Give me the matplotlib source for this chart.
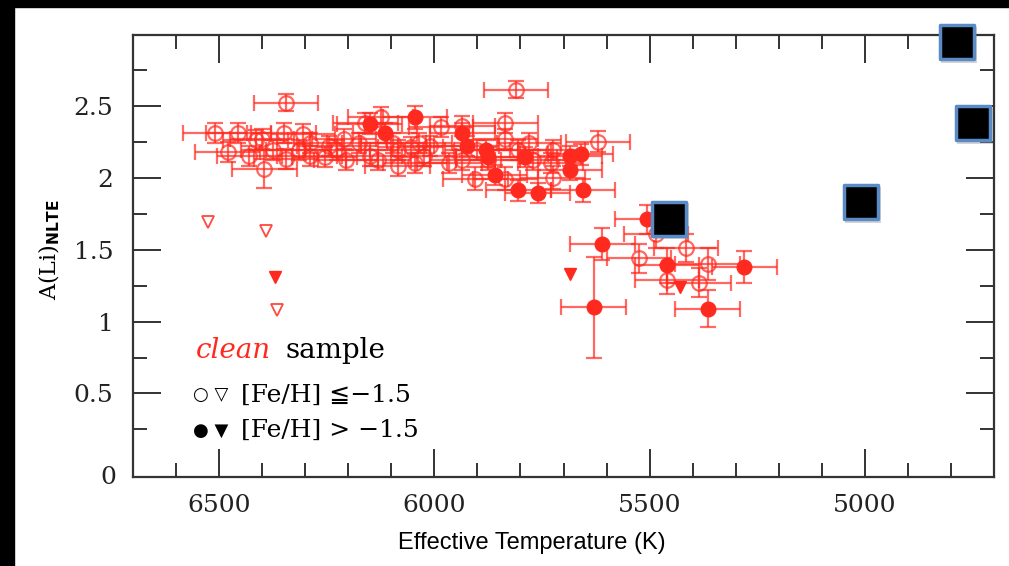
import matplotlib
matplotlib.use("Agg")
import matplotlib.pyplot as plt
from matplotlib.ticker import MultipleLocator, FixedLocator
from matplotlib.patches import Rectangle

# metal-poor stars ([Fe/H] <= -1.5), open circles
open_teff = [6510, 6455, 6430, 6415, 6400, 6350, 6345, 6305, 6395, 6345,
             6290, 6290, 6255, 6210, 6205, 6175, 6150, 6160, 6125, 5985,
             6055, 6035, 6045, 5965, 5935, 5835, 5835, 5780, 5620, 5810,
             5730, 5725, 5905, 5835, 6085, 6095, 6010, 6225, 6315, 6245,
             6375, 6480, 6130, 5935, 5875, 5725, 5770, 5805, 5900, 6085,
             6025, 5485, 5415, 5525, 5365, 5460, 5385]
open_ali = [2.31, 2.31, 2.15, 2.26, 2.27, 2.31, 2.52, 2.30, 2.06, 2.13,
            2.15, 2.24, 2.14, 2.27, 2.12, 2.24, 2.15, 2.38, 2.42, 2.35,
            2.21, 2.24, 2.10, 2.10, 2.36, 2.38, 2.27, 2.24, 2.25, 2.61,
            2.10, 2.00, 1.99, 1.99, 2.19, 2.24, 2.22, 2.19, 2.19, 2.22,
            2.19, 2.18, 2.12, 2.12, 2.12, 2.19, 2.12, 2.19, 2.19, 2.08,
            2.15, 1.61, 1.51, 1.44, 1.40, 1.29, 1.27]
open_eali = [0.07, 0.07, 0.07, 0.07, 0.07, 0.07, 0.06, 0.07, 0.13, 0.07,
             0.07, 0.07, 0.07, 0.07, 0.07, 0.07, 0.07, 0.07, 0.07, 0.07,
             0.07, 0.07, 0.07, 0.07, 0.07, 0.07, 0.07, 0.07, 0.07, 0.06,
             0.07, 0.08, 0.08, 0.08, 0.07, 0.07, 0.07, 0.07, 0.07, 0.07,
             0.07, 0.07, 0.07, 0.07, 0.07, 0.07, 0.07, 0.07, 0.07, 0.07,
             0.07, 0.10, 0.10, 0.10, 0.11, 0.10, 0.10]

# [Fe/H] > -1.5, filled circles
filled_teff = [6150, 6115, 6045, 5935, 5925, 5880, 5875, 5790, 5685, 5660,
               5685, 5860, 5805, 5760, 5655, 5610, 5505, 5460, 5280, 5630,
               5365]
filled_ali = [2.375, 2.31, 2.42, 2.31, 2.22, 2.19, 2.14, 2.14, 2.15, 2.16,
              2.05, 2.02, 1.91, 1.89, 1.91, 1.54, 1.71, 1.39, 1.38, 1.10,
              1.09]
filled_eali = [0.07, 0.07, 0.08, 0.07, 0.07, 0.07, 0.07, 0.07, 0.07, 0.07,
               0.07, 0.07, 0.07, 0.07, 0.08, 0.11, 0.10, 0.12, 0.11, 0.35,
               0.13]
eteff = 75

# upper limits
lim_open_teff = [6525, 6390, 6365]
lim_open_ali = [1.69, 1.63, 1.08]
lim_filled_teff = [6370, 5685, 5430]
lim_filled_ali = [1.31, 1.33, 1.24]

# overlaid black squares
sq_teff = [5454, 5008, 4785, 4748]
sq_ali = [1.715, 1.83, 2.94, 2.38]

red = "#ff2a1f"
serif = ["DejaVu Serif", "DejaVu Sans"]

fig = plt.figure(figsize=(10.09, 5.66), dpi=100)
ax = fig.add_axes([133 / 1009, 1 - 477 / 566, 861 / 1009, 442 / 566])

ax.errorbar(open_teff, open_ali, xerr=eteff, yerr=open_eali, fmt="o", ms=10.5,
            mfc="none", mec=red, mew=1.6, ecolor=red, elinewidth=1.6,
            capsize=6, capthick=1.6, alpha=0.7, zorder=2)
ax.errorbar(filled_teff, filled_ali, xerr=eteff, yerr=filled_eali, fmt="none",
            ecolor=red, elinewidth=1.6, capsize=6, capthick=1.6, alpha=0.7,
            zorder=2)
ax.plot(filled_teff, filled_ali, "o", ms=10.5, color=red, mec=red, zorder=3)
ax.plot(lim_open_teff, lim_open_ali, "v", ms=8.5, mfc="none", mec=red,
        mew=1.3, alpha=0.85, zorder=3)
ax.plot(lim_filled_teff, lim_filled_ali, "v", ms=8.5, color=red, zorder=3)

# shadow + squares
ax.scatter([t - 3 for t in sq_teff], [a - 0.02 for a in sq_ali], s=640,
           marker="s", color="#888888", alpha=0.35, lw=0, zorder=4,
           clip_on=False)
ax.scatter(sq_teff, sq_ali, s=600, marker="s", color="black",
           edgecolors="#5b8bc7", linewidths=2.5, zorder=5, clip_on=False)

ax.set_xlim(6700, 4700)
ax.set_ylim(-0.08, 2.99)
ax.xaxis.set_major_locator(FixedLocator([6500, 6000, 5500, 5000]))
ax.xaxis.set_minor_locator(MultipleLocator(100))
ax.yaxis.set_major_locator(FixedLocator([0.5, 1.0, 1.5, 2.0, 2.5]))
ax.yaxis.set_minor_locator(FixedLocator([0.25, 0.75, 1.25, 1.75, 2.25, 2.75]))
ax.set_yticklabels(["0.5", "1", "1.5", "2", "2.5"])
ax.tick_params(which="both", direction="in", top=True, right=True,
               color="#333333", width=1.4)
ax.tick_params(which="major", length=20)
ax.tick_params(which="minor", length=10)
ax.tick_params(axis="x", pad=12)
ax.tick_params(axis="y", pad=14)
for lab in ax.get_xticklabels() + ax.get_yticklabels():
    lab.set_fontfamily(serif)
    lab.set_fontsize(18)
    lab.set_color("#222222")
for sp in ax.spines.values():
    sp.set_linewidth(1.6)
    sp.set_color("#333333")

# "0" label sits at the bottom edge
ax.text(-0.019, -0.08, "0", transform=ax.get_yaxis_transform(), ha="right",
        va="center", fontsize=18, family=serif, color="#222222")

ax.set_xlabel("Effective Temperature (K)", family="Liberation Sans",
              fontsize=17)
ax.xaxis.set_label_coords(0.463, -0.125)
ax.set_ylabel(r"A(Li)$_{\mathbf{NLTE}}$", family=serif, fontsize=16)
ax.yaxis.set_label_coords(-0.083, 0.514)

# key
ax.text(0.073, 0.27, "clean", transform=ax.transAxes, color=red,
        style="italic", family=serif, fontsize=20, va="baseline")
ax.text(0.177, 0.27, "sample", transform=ax.transAxes, color="black",
        family=serif, fontsize=20, va="baseline")
ax.text(0.07, 0.185, "\u25cb \u25bd", transform=ax.transAxes,
        family="DejaVu Sans", fontsize=13, va="center")
ax.text(0.126, 0.185, "[Fe/H] \u2266\u22121.5", transform=ax.transAxes,
        family=serif, fontsize=18, va="center")
ax.text(0.07, 0.105, "\u25cf \u25bc", transform=ax.transAxes,
        family="DejaVu Sans", fontsize=13, va="center")
ax.text(0.126, 0.105, "[Fe/H] > \u22121.5", transform=ax.transAxes,
        family=serif, fontsize=18, va="center")

# black frame edges of the slide
fig.patches.append(Rectangle((0, 0), 14 / 1009, 1, transform=fig.transFigure,
                             color="black", zorder=10))
fig.patches.append(Rectangle((0, 1 - 7 / 566), 1, 7 / 566,
                             transform=fig.transFigure, color="black",
                             zorder=10))

fig.savefig("out.png", dpi=100)
